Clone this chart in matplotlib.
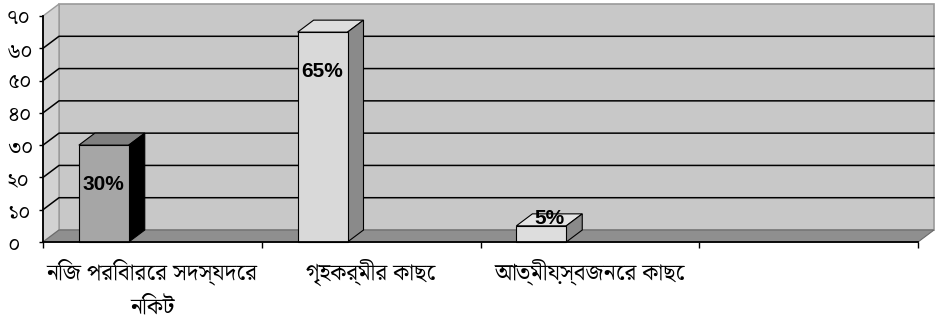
import numpy as np
import matplotlib
matplotlib.use("Agg")
import matplotlib.pyplot as plt
from matplotlib import font_manager as fm
from matplotlib.patches import Polygon
from matplotlib.ft2font import FT2Font

categories = ["নিজ পরিবারের সদস্যদের\nনিকট", "গৃহকর্মীর কাছে", "আত্মীয়স্বজনের কাছে", ""]
values = [30, 65, 5]
value_labels = ["30%", "65%", "5%"]
yticks = [0, 10, 20, 30, 40, 50, 60, 70]
ytick_labels = ["০", "১০", "২০", "৩০", "৪০", "৫০", "৬০", "৭০"]

front_colors = ["#a6a6a6", "#d9d9d9", "#dddddd"]
top_colors = ["#808080", "#dedede", "#e4e4e4"]
side_colors = ["#000000", "#8a8a8a", "#8a8a8a"]


def find_font(ch):
    names = [f.name for f in fm.fontManager.ttflist]
    for pref in ["Noto Serif Bengali", "Noto Sans Bengali", "Lohit Bengali", "FreeSerif"]:
        if pref in names:
            return pref
    for f in fm.fontManager.ttflist:
        try:
            if ord(ch) in FT2Font(f.fname).get_charmap():
                return f.name
        except Exception:
            pass
    return None


bn = find_font("ক")
fam = [bn, "DejaVu Sans"] if bn else ["DejaVu Sans"]

fig = plt.figure(figsize=(9.37, 3.27), dpi=100)
W, H = 937, 327
ax = fig.add_axes([43 / W, (H - 242) / H, 875 / W, 226 / H])
ncat = len(categories)
ymax = yticks[-1]
ax.set_xlim(0, ncat)
ax.set_ylim(0, ymax)

# 3-D depth in data units (~16 px right, ~12 px up)
dx = 16 / (875 / ncat)
dy = 12 / (226 / ymax)

def poly(pts, fc, ec="none", lw=0.8, z=1):
    ax.add_patch(Polygon(pts, closed=True, fc=fc, ec=ec, lw=lw, zorder=z, clip_on=False))

# walls and floor
poly([(dx, dy), (ncat + dx, dy), (ncat + dx, ymax + dy), (dx, ymax + dy)], "#c8c8c8", "#9a9a9a", 1.2, 0.5)
poly([(0, 0), (dx, dy), (dx, ymax + dy), (0, ymax)], "#d2d2d2", "#9a9a9a", 1.0, 0.6)
poly([(0, 0), (ncat, 0), (ncat + dx, dy), (dx, dy)], "#8f8f8f", "#6a6a6a", 0.8, 0.7)
for v in yticks[1:-1]:
    ax.plot([0, dx, ncat + dx], [v, v + dy, v + dy], color="black", lw=1.1, zorder=0.8, clip_on=False)

# bars
x0, bw = 0.164, 0.228
for i, (v, lab) in enumerate(zip(values, value_labels)):
    xl, xr = i + x0, i + x0 + bw
    poly([(xl, v), (xr, v), (xr + dx, v + dy), (xl + dx, v + dy)], top_colors[i], "black", 0.8, 2)
    poly([(xr, 0), (xr + dx, dy), (xr + dx, v + dy), (xr, v)], side_colors[i], "black", 0.8, 2)
    poly([(xl, 0), (xr, 0), (xr, v), (xl, v)], front_colors[i], "black", 0.8, 2.1)
    if v > 20:
        ax.text((xl + xr) / 2, v - 12.3, lab, ha="center", va="center", fontsize=15,
                fontweight="bold", family="Liberation Sans", zorder=5)
    else:
        ax.text((xl + xr) / 2 + dx / 2, v + 2.4, lab, ha="center", va="center", fontsize=15,
                fontweight="bold", family="Liberation Sans", zorder=5)

for s in ["top", "right"]:
    ax.spines[s].set_visible(False)
for s in ["left", "bottom"]:
    ax.spines[s].set_color("black")
    ax.spines[s].set_linewidth(1.3)
    ax.spines[s].set_zorder(3)

ax.set_yticks(yticks)
ax.set_yticklabels(ytick_labels, family=fam, fontsize=15)
for t in ax.get_yticklabels():
    t.set_ha("left")
ax.tick_params(axis="y", length=3, width=1, pad=23)

ax.set_xticks(range(ncat + 1))
ax.set_xticklabels([])
ax.tick_params(axis="x", which="major", length=4, width=1)
ax.set_xticks([i + 0.5 for i in range(ncat)], minor=True)
ax.set_xticklabels(categories, minor=True, family=fam, fontsize=16.5, linespacing=1.55)
ax.tick_params(axis="x", which="minor", length=0, pad=12)

fig.savefig("out.png", dpi=100, facecolor="white")
